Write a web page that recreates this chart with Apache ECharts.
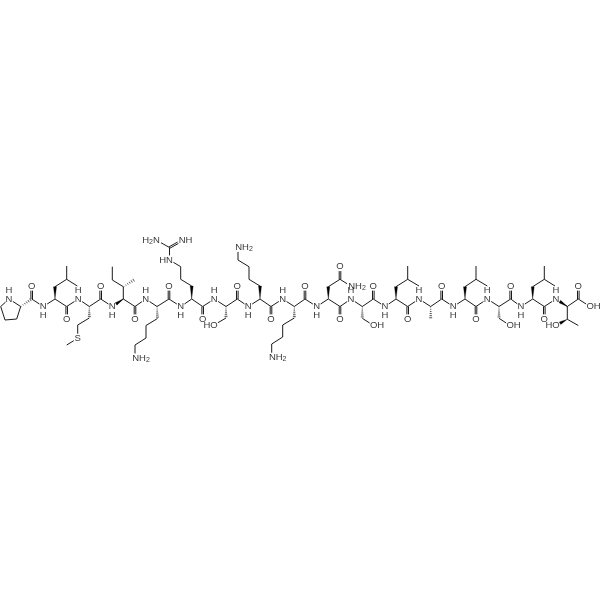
<!DOCTYPE html>
<html><head><meta charset="utf-8">
<style>html,body{margin:0;padding:0;background:#fff}#c{width:600px;height:600px}</style>
<script src="https://cdn.jsdelivr.net/npm/echarts@6/dist/echarts.min.js"></script>
</head><body><div id="c"></div>
<script>
const T = 299, B = 306.5;
// main chain, C0 of proline to the terminal OH
const backbone = [
 [31.7,T],[43.3,B],[55,T],[66.7,B],[78.3,T],[89.3,B],[100.7,T],[112.3,B],[123.3,T],[135,B],
 [145.7,T],[157,B],[169,T],[180.7,B],[191.7,T],[202.7,B],[214.3,T],[226,B],[237.3,T],[248.3,B],
 [260,T],[271,B],[282.7,T],[294.3,B],[305,T],[316.7,B],[328.3,T],[340,B],[351,T],[362.3,B],
 [373.3,T],[385,B],[396,T],[407.7,B],[419,T],[430.7,B],[441.7,T],[453.3,B],[465,T],[476,B],
 [487.3,T],[499,B],[510.7,T],[521,B],[532.7,T],[544.3,B],[556,T],[567.3,B],[578.3,T],[590,B]
];
// side chains: single bonds as polylines
const sideChains = [
 [[9,T],[20.7,B],[16.7,319],[5,320],[0.7,B],[9,T]],
 [[55,286.7],[66.7,279.3],[66.7,266]], [[66.7,279.3],[77.3,286]],
 [[89.3,318],[77.7,325],[77.7,338.3],[66.7,345]],
 [[123.3,T],[123.3,286.7],[112.3,280],[112.3,266.7]],
 [[157.5,318.5],[146,325.5],[146,338],[135,345],[135,358]],
 [[191.7,286],[180.7,279.3],[180.7,266.7],[169.5,260],[169.5,247.5],[157,240.5]],
 [[226,318],[214,325]],
 [[260,286],[249,279.3],[249,266.7],[238,260],[238,247.3]],
 [[294.3,318],[282.7,325],[282.7,337],[271.7,344],[271.7,357.3]],
 [[328.3,286.7],[340,279.3],[351,286.2]],
 [[362.3,318.3],[373.5,325.5]],
 [[396,286.7],[407.7,279.3],[407.7,266]], [[407.7,279.3],[419,286]],
 [[465,286.7],[476,279.3],[476,266]], [[476,279.3],[487.3,286]],
 [[499,318.3],[510,325.5]],
 [[532.7,286.7],[544.3,279.3],[544.3,266]], [[544.3,279.3],[555,286]],
 [[567.3,B],[567.3,319.3],[578.3,325.5]]
];
// C=O and C=N: x1,y1,x2,y2
const doubleBonds = [
 [31.7,T,31.7,286],[66.7,B,66.7,319],[100.7,T,100.7,286],[135,B,135,319],[169,T,169,286],
 [202.7,B,202.7,319],[237.3,T,237.3,286],[271,B,271,319],[305,T,305,286],[340,B,340,319],
 [373.3,T,373.3,286],[407.7,B,407.7,319],[441.7,T,441.7,286],[476,B,476,319],[510.7,T,510.7,286],
 [544.3,B,544.3,319],[578.3,T,578.3,286],[340,279.3,340,266.5],[169.5,247.5,182,240.5]
];
// stereo bonds: narrow end first
const wedgeBonds = [
 [55,T,55,286.7],[123.3,T,112.3,B],[191.7,T,191.7,286],[260,T,260,286],[328.3,T,328.3,286.7],
 [396,T,396,286.7],[465,T,465,286.7],[532.7,T,532.7,286.7],[567.3,B,556,T],[567.3,319.3,556,325.5]
];
const hashBonds = [
 [20.7,B,31.7,T],[89.3,B,89.3,318],[123.3,286.7,135,279.3],[157,B,157.5,318.5],[226,B,226,318],
 [294.3,B,294.3,318],[362.3,B,362.3,318.3],[430.7,B,430.7,319.3],[499,B,499,318.3]
];
// hetero atoms
const nitrogens = [
 [9,T],[78.3,T],[145.7,T],[214.3,T],[282.7,T],[351,T],[419,T],[487.3,T],[556,T]
];
const amideNBelow = [
 [43.3,B],[112.3,B],[180.7,B],[248.3,B],[316.7,B],[385,B],[453.3,B],[521,B]
];
const oxygens = [
 [31.7,286],[66.7,319],[100.7,286],[135,319],[169,286],[202.7,319],[237.3,286],[271,319],[305,286],
 [340,319],[373.3,286],[407.7,319],[441.7,286],[476,319],[510.7,286],[544.3,319],[578.3,286],[340,266.5]
];
const sulfurs = [[77.7,338.3]];
const aminesRight = [[135,358],[238,247.3],[271.7,357.3],[351,286.2]];
const aminesLeft = [[157,240.5]];
const imines = [[182,240.5]];
const guanidineNH = [[169.5,260]];
const hydroxylsRight = [[373.5,325.5],[510,325.5],[590,B]];
const hydroxylsLeft = [[214,325],[556,325.5]];

const hetero = [].concat(nitrogens, amideNBelow, oxygens, sulfurs, aminesRight, aminesLeft, imines, guanidineNH, hydroxylsRight, hydroxylsLeft);
const isHetero = (x,y)=>hetero.some(p=>Math.abs(p[0]-x)<.6 && Math.abs(p[1]-y)<.6);

const bonds = [];
const addChain = c => { for (let i=0;i<c.length-1;i++) bonds.push([c[i][0],c[i][1],c[i+1][0],c[i+1][1],0]); };
addChain(backbone.filter((p,i)=>true)); sideChains.forEach(addChain);
doubleBonds.forEach(b=>bonds.push([...b,1]));
wedgeBonds.forEach(b=>bonds.push([...b,2]));
hashBonds.forEach(b=>bonds.push([...b,3]));

const INK = '#000', BW = 0.9, GAP = 1.6, TRIM = 4.6;
function renderBond(params, api){
  const a = api.coord([api.value(0),api.value(1)]), b = api.coord([api.value(2),api.value(3)]);
  const kind = api.value(4);
  let ax=a[0],ay=a[1],bx=b[0],by=b[1];
  const L = Math.hypot(bx-ax,by-ay), ux=(bx-ax)/L, uy=(by-ay)/L, nx=-uy, ny=ux;
  if (isHetero(api.value(0),api.value(1))) { ax+=ux*TRIM; ay+=uy*TRIM; }
  if (isHetero(api.value(2),api.value(3))) { bx-=ux*TRIM; by-=uy*TRIM; }
  const st = {stroke:INK,lineWidth:BW,fill:null};
  const seg = (x1,y1,x2,y2)=>({type:'line',shape:{x1,y1,x2,y2},style:st});
  if (kind===0) return seg(ax,ay,bx,by);
  if (kind===1) return {type:'group',children:[
    seg(ax+nx*GAP/2,ay+ny*GAP/2,bx+nx*GAP/2,by+ny*GAP/2),
    seg(ax-nx*GAP/2,ay-ny*GAP/2,bx-nx*GAP/2,by-ny*GAP/2)]};
  if (kind===2) return {type:'polygon',shape:{points:[[ax,ay],[bx+nx*1.5,by+ny*1.5],[bx-nx*1.5,by-ny*1.5]]},style:{fill:INK,stroke:INK,lineWidth:.3}};
  const ch=[], n=6;
  for(let i=0;i<n;i++){const t=(i+.3)/n,w=.25+t*1.4,x=ax+(bx-ax)*t,y=ay+(by-ay)*t;
    ch.push({type:'line',shape:{x1:x+nx*w,y1:y+ny*w,x2:x-nx*w,y2:y-ny*w},style:{stroke:INK,lineWidth:.7}});}
  return {type:'group',children:ch};
}
const FF = '"Liberation Sans",Arial,sans-serif', FS = 9.5, TXT = '#000';
const labelSeries = (pts,text,off)=>({type:'scatter',data:pts,symbolSize:0,silent:true,z:5,
  label:{show:true,formatter:text,position:'inside',offset:off||[0,0],align:'center',verticalAlign:'middle',
   fontFamily:FF,fontSize:FS,color:TXT,lineHeight:10,
   rich:{s:{fontSize:7,padding:[4,0,0,0],fontFamily:FF,color:TXT},b:{fontFamily:FF,fontSize:FS,color:TXT}}}});

const chart = echarts.init(document.getElementById('c'),null,{renderer:'canvas'});
chart.setOption({
  animation:false,
  grid:{left:0,right:0,top:0,bottom:0},
  xAxis:{type:'value',min:0,max:600,show:false},
  yAxis:{type:'value',min:0,max:600,inverse:true,show:false},
  series:[
    {type:'custom',data:bonds,renderItem:renderBond,silent:true,clip:false,encode:{x:[0,2],y:[1,3]}},
    labelSeries(nitrogens,'N'),
    labelSeries(nitrogens,'H',[0,-8.5]),
    labelSeries(amideNBelow,'N'),
    labelSeries(amideNBelow,'H',[0,8.5]),
    labelSeries(oxygens,'O'),
    labelSeries(sulfurs,'S'),
    labelSeries(aminesRight,'{b|NH}{s|2}',[6,0]),
    labelSeries(aminesLeft,'{b|H}{s|2}{b|N}',[-6,0]),
    labelSeries(imines,'{b|NH}',[3.5,0]),
    labelSeries(guanidineNH,'{b|HN}',[-3.5,0]),
    labelSeries(hydroxylsRight,'OH',[3.5,0]),
    labelSeries(hydroxylsLeft,'HO',[-3.5,0])
  ]
});
</script></body></html>
